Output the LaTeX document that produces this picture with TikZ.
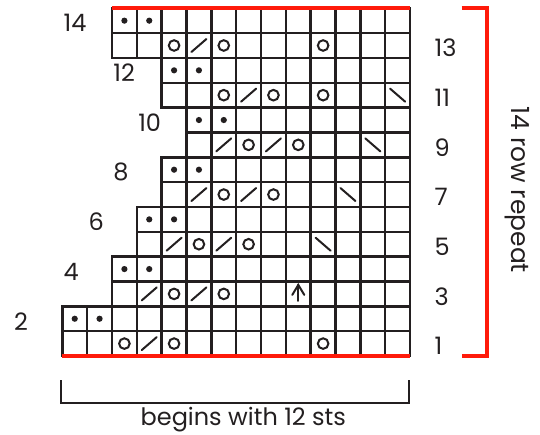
\documentclass[tikz,border=0pt]{standalone}
\usepackage{fontspec}
\setmainfont{Poppins}
\definecolor{ink}{HTML}{231F20}
\definecolor{chartred}{HTML}{FF1A0A}
\tikzset{
  gridline/.style={draw=ink, line width=2.5pt, line cap=rect},
  redline/.style={draw=chartred, line width=4pt},
  numlbl/.style={inner sep=0pt, font=\fontsize{24}{26}\selectfont, text=ink},
  sym/.style={draw=ink, line width=2pt, line cap=round},
  pdot/.pic={\fill[ink] (0,0) circle (3.1pt);},
  pyo/.pic={\draw[sym] (0,0) circle (5.3pt);},
  pktog/.pic={\draw[sym] (-7.5pt,-6.5pt) -- (7.5pt,6.5pt);},
  pssk/.pic={\draw[sym] (-7.5pt,6.5pt) -- (7.5pt,-6.5pt);},
  pcdd/.pic={\draw[sym] (0,-7pt) -- (0,9pt); \draw[sym] (-6pt,-1pt) -- (0,9pt) -- (6pt,-1pt);}
}
\begin{document}
\begin{tikzpicture}[x=1pt,y=1pt]
\useasboundingbox (0,0) rectangle (540,434);
\begin{scope}[shift={(62.3,78)}, x=24.84pt, y=24.84pt]
  % grid rows
  \foreach \r/\c in {1/0,2/0,3/2,4/2,5/3,6/3,7/4,8/4,9/5,10/5,11/4,12/4,13/2,14/2}{
    \draw[gridline] (\c,\r-1) rectangle (14,\r);
    \foreach \x in {\c,...,13} \draw[gridline] (\x,\r-1) -- (\x,\r);
  }
  \draw[redline] (2,14) -- (14,14);
  \draw[redline] (0,0) -- (14,0);
  % dots (even rows)
  \foreach \r/\c in {2/0,4/2,6/3,8/4,10/5,12/4,14/2}{
    \pic at (\c+0.5,\r-0.5) {pdot};
    \pic at (\c+1.5,\r-0.5) {pdot};
  }
  % yarn overs
  \foreach \r/\c in {1/2,1/4,1/10,3/4,3/6,5/5,5/7,7/6,7/8,9/7,9/9,11/6,11/8,11/10,13/4,13/6,13/10}
    \pic at (\c+0.5,\r-0.5) {pyo};
  % k2tog
  \foreach \r/\c in {1/3,3/3,3/5,5/4,5/6,7/5,7/7,9/6,9/8,11/7,13/5}
    \pic at (\c+0.5,\r-0.5) {pktog};
  % ssk
  \foreach \r/\c in {5/10,7/11,9/12,11/13}
    \pic at (\c+0.5,\r-0.5) {pssk};
  % centered double decrease
  \pic at (9.5,2.5) {pcdd};
  % left labels (even rows)
  \foreach \r/\c in {2/0,4/2,6/3,8/4,10/5,12/4,14/2}
    \node[numlbl, anchor=west] (l\r) at (\c-1.95,\r-0.6) {\r};
  % right labels (odd rows)
  \foreach \r in {1,3,5,7,9,11,13}
    \node[numlbl, anchor=west] (r\r) at (14.98,\r-0.6) {\r};
\end{scope}
% right repeat bracket
\draw[redline] (461.7,425.8) -- (487.3,425.8) -- (487.3,78) -- (461.7,78);
\node[inner sep=0pt, rotate=-90, font=\fontsize{25}{28}\selectfont, text=ink] (rep) at (517,244) {14 row repeat};
% bottom bracket
\draw[draw=ink, line width=2pt] (61.3,54) -- (61.3,31) -- (408.7,31) -- (408.7,54);
\node[inner sep=0pt, anchor=base, font=\fontsize{24}{28}\selectfont, text=ink] (begin) at (243.3,8.8) {begins with 12 sts};
\end{tikzpicture}
\end{document}
